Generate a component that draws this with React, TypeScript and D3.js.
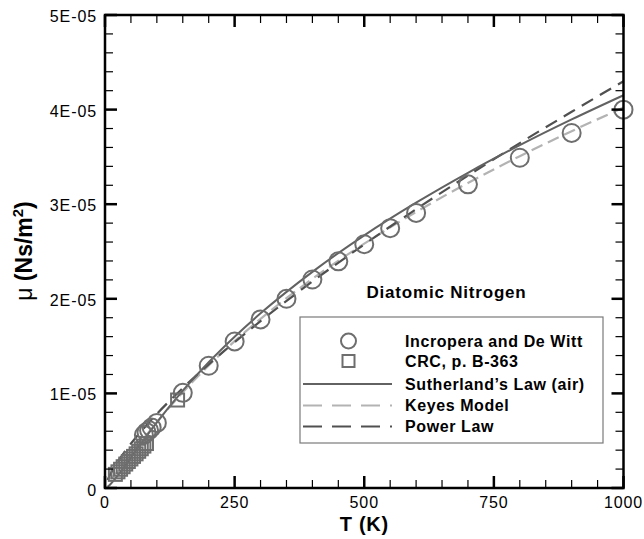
import React from "react";
import * as d3 from "d3";

// ---- data (viscosity in units of 1e-6 N s/m^2) ----
const incroperaT = [75, 80, 85, 90, 100, 150, 200, 250, 300, 350, 400, 450, 500, 550, 600, 700, 800, 900, 1000];
const incroperaMu = [5.6, 5.9, 6.1, 6.4, 6.88, 10.06, 12.92, 15.49, 17.82, 20.0, 22.04, 23.96, 25.77, 27.47, 29.08, 32.1, 34.91, 37.53, 39.99];

const crcT = [20, 25, 30, 35, 40, 45, 50, 55, 60, 65, 70, 75, 80, 140];
const crcMu = [1.44, 1.71, 1.98, 2.25, 2.53, 2.8, 3.07, 3.34, 3.61, 3.88, 4.15, 4.43, 4.7, 9.3];

const sutherlandT = [5, 10, 20, 40, 60, 80, 100, 150, 200, 250, 300, 400, 500, 600, 700, 800, 900, 1000];
const sutherlandMu = [0.14, 0.38, 1.0, 2.45, 3.98, 5.48, 6.93, 10.29, 13.29, 15.99, 18.46, 22.85, 26.71, 30.16, 33.32, 36.24, 38.96, 41.52];

const keyesT = [10, 20, 40, 60, 80, 100, 150, 200, 250, 300, 400, 500, 600, 700, 800, 900, 1000];
const keyesMu = [0.96, 1.48, 2.82, 4.22, 5.61, 6.96, 10.11, 12.94, 15.52, 17.88, 22.11, 25.83, 29.18, 32.24, 35.08, 37.72, 40.21];

const powerT = [5, 10, 20, 40, 60, 80, 100, 150, 200, 250, 300, 400, 500, 600, 700, 800, 900, 1000];
const powerMu = [0.85, 1.42, 2.38, 3.97, 5.36, 6.63, 7.83, 10.56, 13.07, 15.41, 17.64, 21.83, 25.75, 29.47, 33.03, 36.46, 39.77, 43.0];

const xTickValues = [0, 250, 500, 750, 1000];
const xTickLabels = ["0", "250", "500", "750", "1000"];
const yTickValues = [0, 10, 20, 30, 40, 50];
const yTickLabels = ["0", "1E-05", "2E-05", "3E-05", "4E-05", "5E-05"];

const legendLabels = ["Incropera and De Witt", "CRC, p. B-363", "Sutherland\u2019s Law (air)", "Keyes Model", "Power Law"];

// ---- layout ----
const W = 644;
const H = 539;
const L = 105, R = 623.5, T = 15, B = 488;
const FONT = "'Liberation Sans', Arial, Helvetica, sans-serif";

const cSolid = "#626262";
const cKeyes = "#b3b3b3";
const cPower = "#505050";
const cMarker = "#6e6e6e";

export default function App() {
  const x = d3.scaleLinear().domain([0, 1000]).range([L, R]);
  const y = d3.scaleLinear().domain([0, 50]).range([B, T]);

  const line = d3
    .line<[number, number]>()
    .x((d) => x(d[0]))
    .y((d) => y(d[1]))
    .curve(d3.curveMonotoneX);

  const pts = (ts: number[], vs: number[]) => ts.map((t, i) => [t, vs[i]] as [number, number]);

  const xMinor = d3.range(0, 1001, 50).filter((v) => !xTickValues.includes(v));
  const yMinor = d3.range(0, 50.001, 2).filter((v) => !yTickValues.some((m) => Math.abs(m - v) < 1e-6));

  const majLen = 12, minLen = 8;

  const legX = 300, legY = 317, legW = 303, legH = 126;
  const rowY = [341, 361, 384, 405.5, 426.5];
  const symX = 348.5;
  const textX = 405;

  return (
    <svg
      width={W}
      height={H}
      style={{ position: "absolute", left: 0, top: 0, background: "#fff" }}
      fontFamily={FONT}
    >
      <rect x={0} y={0} width={W} height={H} fill="#fff" />
      <defs>
        <clipPath id="plotClip">
          <rect x={L} y={T} width={R - L} height={B - T} />
        </clipPath>
      </defs>

      {/* curves */}
      <g clipPath="url(#plotClip)" fill="none">
        <path d={line(pts(keyesT, keyesMu)) || ""} stroke={cKeyes} strokeWidth={2.2} strokeDasharray="12,6" />
        <path d={line(pts(powerT, powerMu)) || ""} stroke={cPower} strokeWidth={2.2} strokeDasharray="13,8" />
        <path d={line(pts(sutherlandT, sutherlandMu)) || ""} stroke={cSolid} strokeWidth={2} />
      </g>

      {/* markers */}
      <g fill="none" stroke={cMarker} strokeWidth={2}>
        {crcT.map((t, i) => (
          <rect key={"s" + i} x={x(t) - 6.5} y={y(crcMu[i]) - 6.5} width={13} height={13} />
        ))}
        {incroperaT.map((t, i) => (
          <circle key={"c" + i} cx={x(t)} cy={y(incroperaMu[i])} r={9} />
        ))}
      </g>

      {/* frame */}
      <rect x={L} y={T} width={R - L} height={B - T} fill="none" stroke="#000" strokeWidth={2.5} />

      {/* ticks */}
      <g stroke="#000">
        {xTickValues.map((v) => (
          <g key={"xt" + v} strokeWidth={2.5}>
            <line x1={x(v)} x2={x(v)} y1={B} y2={B - majLen} />
            <line x1={x(v)} x2={x(v)} y1={T} y2={T + majLen} />
          </g>
        ))}
        {xMinor.map((v) => (
          <g key={"xm" + v} strokeWidth={1.2}>
            <line x1={x(v)} x2={x(v)} y1={B} y2={B - minLen} />
            <line x1={x(v)} x2={x(v)} y1={T} y2={T + minLen} />
          </g>
        ))}
        {yTickValues.map((v) => (
          <g key={"yt" + v} strokeWidth={2.5}>
            <line x1={L} x2={L + majLen} y1={y(v)} y2={y(v)} />
            <line x1={R} x2={R - majLen} y1={y(v)} y2={y(v)} />
          </g>
        ))}
        {yMinor.map((v) => (
          <g key={"ym" + v} strokeWidth={1.2}>
            <line x1={L} x2={L + minLen} y1={y(v)} y2={y(v)} />
            <line x1={R} x2={R - minLen} y1={y(v)} y2={y(v)} />
          </g>
        ))}
      </g>

      {/* tick labels */}
      <g fontSize={16} letterSpacing={0.9} fill="#000">
        {xTickValues.map((v, i) => (
          <text key={"xl" + v} x={x(v)} y={508} textAnchor="middle">
            {xTickLabels[i]}
          </text>
        ))}
        {yTickValues.map((v, i) => (
          <text key={"yl" + v} x={97} y={y(v) + (v === 0 ? 8 : 7)} textAnchor="end">
            {yTickLabels[i]}
          </text>
        ))}
      </g>

      {/* axis titles */}
      <text x={(L + R) / 2} y={531} textAnchor="middle" fontSize={20} fontWeight="bold" letterSpacing={0.7}>
        T (K)
      </text>
      <text transform="translate(32,251) rotate(-90)" textAnchor="middle" fontSize={23}>
        <tspan fontWeight="normal">{"\u03BC"}</tspan>
        <tspan fontWeight="bold">{" (Ns/m"}</tspan>
        <tspan fontWeight="bold" fontSize={15} dy={-9}>
          2
        </tspan>
        <tspan fontWeight="bold" dy={9}>
          )
        </tspan>
      </text>

      {/* legend */}
      <text x={366.5} y={298} fontSize={17} fontWeight="bold" letterSpacing={0.8}>
        Diatomic Nitrogen
      </text>
      <rect x={legX} y={legY} width={legW} height={legH} fill="#fff" stroke="#7a7a7a" strokeWidth={1.2} />
      <circle cx={symX} cy={rowY[0]} r={7.5} fill="none" stroke={cMarker} strokeWidth={2} />
      <rect x={symX - 6} y={rowY[1] - 6} width={12} height={12} fill="none" stroke={cMarker} strokeWidth={2} />
      <line x1={303} x2={392} y1={rowY[2]} y2={rowY[2]} stroke={cSolid} strokeWidth={2} />
      <line x1={303} x2={392} y1={rowY[3]} y2={rowY[3]} stroke={cKeyes} strokeWidth={2.2} strokeDasharray="19,10" />
      <line x1={303} x2={392} y1={rowY[4]} y2={rowY[4]} stroke={cPower} strokeWidth={2.2} strokeDasharray="19,10" />
      <g fontSize={16} fontWeight="bold" letterSpacing={0.6}>
        {legendLabels.map((s, i) => (
          <text key={"lg" + i} x={textX} y={rowY[i] + 5.5}>
            {s}
          </text>
        ))}
      </g>
    </svg>
  );
}
